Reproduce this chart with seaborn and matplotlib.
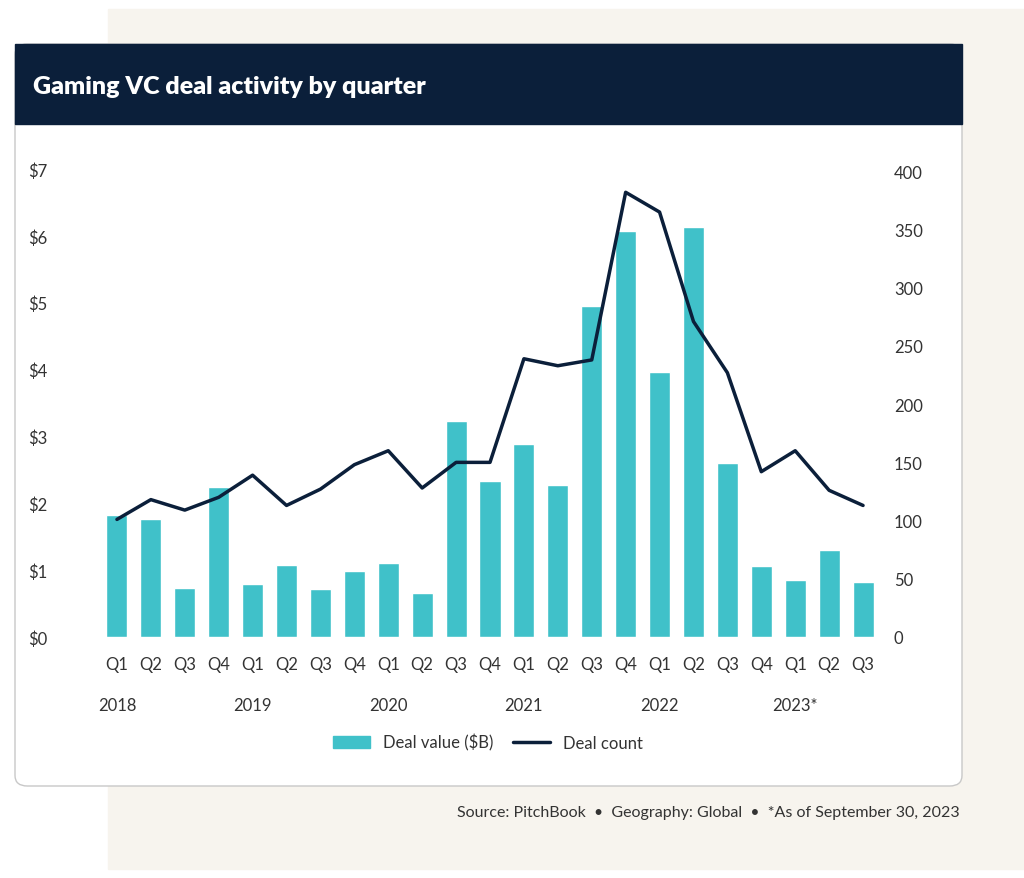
import matplotlib
matplotlib.use("Agg")
import matplotlib.pyplot as plt
import seaborn as sns
import pandas as pd
from matplotlib.patches import FancyBboxPatch, Rectangle
from matplotlib.lines import Line2D

# === Data ===
quarters = ["Q1", "Q2", "Q3", "Q4"] * 5 + ["Q1", "Q2", "Q3"]
years = ["2018", "2019", "2020", "2021", "2022", "2023*"]
deal_value = [1.83, 1.77, 0.73, 2.25, 0.80, 1.08, 0.72, 0.99, 1.10, 0.66, 3.23, 2.33,
              2.88, 2.28, 4.95, 6.08, 3.97, 6.13, 2.60, 1.06, 0.85, 1.30, 0.83]
deal_count = [101, 118, 109, 120, 139, 113, 127, 148, 160, 128, 150, 150,
              239, 233, 238, 382, 365, 271, 227, 142, 160, 126, 113]

sns.set_theme(style="white")
plt.rcParams['font.family'] = ['Lato', 'DejaVu Sans']

NAVY = "#0b1f3a"
TEAL = "#40c1c9"
TXT = "#333333"

df = pd.DataFrame({"idx": range(len(deal_value)), "value": deal_value, "count": deal_count})

fig = plt.figure(figsize=(10.24, 8.79), dpi=100)
fig.patch.set_facecolor("white")
W, H = 1024, 879
def fx(x): return x / W
def fy(y): return 1 - y / H

# background panels
fig.patches.append(Rectangle((fx(108), fy(870)), fx(1024 - 108), (860) / H,
                             transform=fig.transFigure, color="#f7f4ee", zorder=0))
fig.patches.append(FancyBboxPatch((fx(15), fy(787)), fx(947), (787 - 45) / H,
                                  boxstyle="round,pad=0,rounding_size=0.012",
                                  transform=fig.transFigure, facecolor="white",
                                  edgecolor="#c8c8c8", lw=1, zorder=1))
fig.patches.append(Rectangle((fx(15), fy(125)), fx(947), 80 / H,
                             transform=fig.transFigure, color=NAVY, zorder=2))
fig.text(fx(33), fy(87), "Gaming VC deal activity by quarter", color="white",
         fontsize=18, fontweight="heavy", va="center", zorder=3)

ax = fig.add_axes([fx(100), fy(638), fx(780), (638 - 170) / H])
ax.set_zorder(5)
ax.set_facecolor("none")
sns.barplot(data=df, x="idx", y="value", color=TEAL, width=0.62, saturation=1, ax=ax, zorder=2)
ax.set_ylim(0, 7)
ax.set_yticks(range(8))
ax.set_yticklabels([f"${v}" for v in range(8)])
ax.set_xticks(range(len(quarters)))
ax.set_xticklabels(quarters)
ax.set_xlabel("")
ax.set_ylabel("")
ax.tick_params(axis="both", length=0, labelsize=12, colors=TXT)
ax.tick_params(axis="x", pad=14)
for lab in ax.get_yticklabels():
    lab.set_horizontalalignment("left")
ax.tick_params(axis="y", pad=52)
sns.despine(ax=ax, left=True, bottom=True)

ax2 = ax.twinx()
ax2.set_zorder(6)
sns.lineplot(data=df, x="idx", y="count", color=NAVY, lw=2.5, ax=ax2)
ax2.set_ylim(0, 402)
ax2.set_yticks(range(0, 401, 50))
ax2.set_ylabel("")
ax2.tick_params(axis="y", length=0, labelsize=12, colors=TXT, pad=10)
sns.despine(ax=ax2, left=True, bottom=True, right=True)
ax.set_xlim(-0.5, len(quarters) - 0.5)

for i, yr in enumerate(years):
    ax.text(i * 4, -0.145, yr, transform=ax.get_xaxis_transform(), ha="center",
            va="center", fontsize=12, color=TXT)

handles = [Rectangle((0, 0), 1, 1, color=TEAL), Line2D([], [], color=NAVY, lw=2.5)]
fig.legend(handles, ["Deal value ($B)", "Deal count"], loc="center",
           bbox_to_anchor=(fx(488), fy(743)), ncol=2, frameon=False, fontsize=12,
           handlelength=2.2, columnspacing=1.2, labelcolor=TXT)

fig.text(fx(960), fy(813), "Source: PitchBook  •  Geography: Global  •  *As of September 30, 2023",
         ha="right", va="center", fontsize=11.5, color=TXT)

fig.savefig("out.png", dpi=100)
